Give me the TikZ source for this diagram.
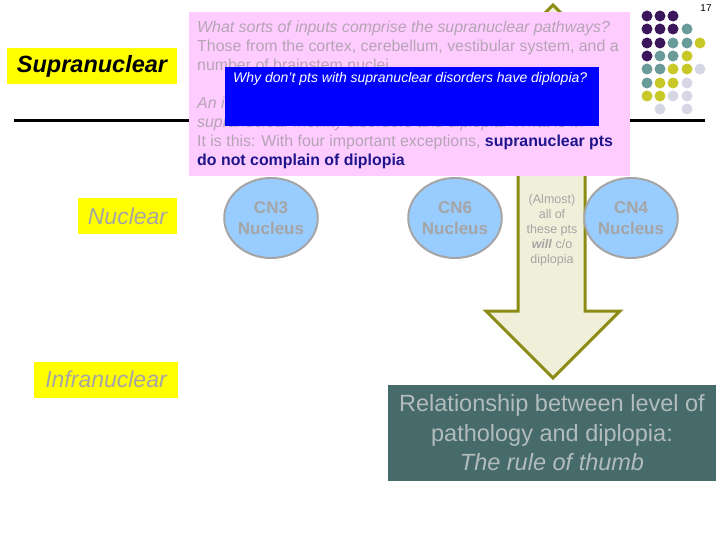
\documentclass[tikz,border=0pt]{standalone}
\usepackage{fontspec}
\setmainfont{Liberation Sans}
\usetikzlibrary{shapes.geometric}
\definecolor{pinkbg}{RGB}{255,204,255}
\definecolor{pinktext}{RGB}{180,164,180}
\definecolor{navytext}{RGB}{30,20,140}
\definecolor{levelyellow}{RGB}{255,255,0}
\definecolor{fadedgray}{RGB}{165,165,165}
\definecolor{nucleusblue}{RGB}{153,204,255}
\definecolor{arrowfill}{RGB}{240,240,218}
\definecolor{arrowline}{RGB}{140,140,20}
\definecolor{thumbteal}{RGB}{71,106,106}
\definecolor{thumbtext}{RGB}{178,188,188}
\definecolor{dotpurple}{RGB}{60,22,90}
\definecolor{dotteal}{RGB}{106,154,154}
\definecolor{dotyellow}{RGB}{200,200,40}
\definecolor{dotlilac}{RGB}{214,214,228}
\begin{document}
\begin{tikzpicture}
      [x=1pt,y=-1pt,
      level box/.style={fill=levelyellow,inner sep=0pt,minimum height=36pt,
        font=\fontsize{23}{27}\selectfont\itshape},
      nucleus/.style={ellipse,fill=nucleusblue,draw=fadedgray,line width=2pt,
        minimum width=86pt,minimum height=80pt,inner sep=0pt,align=center,
        text=fadedgray,font=\fontsize{17}{21}\selectfont\bfseries},
      big arrow/.style={fill=arrowfill,draw=arrowline,line width=3pt,line join=miter}]
      \useasboundingbox (0,0) rectangle (720,540);
      % level divider
      \draw[line width=3pt] (14,121) -- (705,121);
      % rule of thumb arrow
      \draw[big arrow] (553,5) -- (620,72) -- (585,72) -- (585,311) -- (620,311)
        -- (553,378) -- (486,311) -- (518,311) -- (518,72) -- (486,72) -- cycle;
      \node[align=center,text=fadedgray,font=\fontsize{12.5}{15}\selectfont]
        (almost) at (552,230) {(Almost)\\all of\\these pts\\\textbf{\textit{will}} c/o\\diplopia};
      % levels
      \node[level box,minimum width=170pt,font=\fontsize{23.5}{27}\selectfont\bfseries\itshape]
        (supra) at (92,66) {Supranuclear};
      \node[level box,minimum width=99pt,text=fadedgray] (nuc) at (127.5,216) {Nuclear};
      \node[level box,minimum width=144pt,text=fadedgray] (infra) at (106,379.5) {Infranuclear};
      % nuclei
      \node[nucleus] (cn3) at (271,218) {CN3\\Nucleus};
      \node[nucleus] (cn6) at (455,218) {CN6\\Nucleus};
      \node[nucleus] (cn4) at (631,218) {CN4\\Nucleus};
      % question box
      \node[fill=pinkbg,anchor=north west,minimum width=441pt,minimum height=164pt,
        inner sep=0pt] (quiz) at (189,12) {};
      \node[anchor=north west,align=left,inner sep=0pt,text=pinktext,
        font=\fontsize{15.9}{19}\selectfont] (quiztext) at (197,21)
        {\textit{What sorts of inputs comprise the supranuclear pathways?}\\
         Those from the cortex, cerebellum, vestibular system, and a\\
         number of brainstem nuclei.\\[19pt]
         \textit{An important rule of thumb relates}\\
         \textit{supranuclear motility disorders and diplopia. What is it?}\\
         It is this: With four important exceptions, \textcolor{navytext}{\textbf{supranuclear pts}}\\
         \textcolor{navytext}{\textbf{do not complain of diplopia}}};
      \node[fill=blue,anchor=north west,minimum width=374pt,minimum height=59pt,
        inner sep=0pt] (why) at (225,67) {};
      \node[anchor=base west,inner sep=0pt,text=white,font=\fontsize{14}{17}\selectfont\itshape]
        (whytext) at (233,83) {Why don't pts with supranuclear disorders have diplopia?};
      % summary
      \node[fill=thumbteal,minimum width=328pt,minimum height=96pt,inner sep=0pt,
        align=center,text=thumbtext,font=\fontsize{23.5}{29.5}\selectfont]
        (thumb) at (552,433) {Relationship between level of\\pathology and diplopia:\\\textit{The rule of thumb}};
      % slide number and dots
      \node[font=\fontsize{10}{12}\selectfont] (page) at (706,8) {17};
      \fill[dotpurple] (647,16) circle (5.5) (660,16) circle (5.5) (673,16) circle (5.5)
        (647,29) circle (5.5) (660,29) circle (5.5) (673,29) circle (5.5)
        (647,43) circle (5.5) (660,43) circle (5.5) (647,56) circle (5.5);
      \fill[dotteal] (687,29) circle (5.5) (673,43) circle (5.5) (687,43) circle (5.5)
        (660,56) circle (5.5) (673,56) circle (5.5) (647,69) circle (5.5)
        (660,69) circle (5.5) (647,83) circle (5.5);
      \fill[dotyellow] (700,43) circle (5.5) (687,56) circle (5.5) (673,69) circle (5.5)
        (687,69) circle (5.5) (660,83) circle (5.5) (673,83) circle (5.5)
        (647,96) circle (5.5) (660,96) circle (5.5);
      \fill[dotlilac] (700,69) circle (5.5) (687,83) circle (5.5) (673,96) circle (5.5)
        (687,96) circle (5.5) (660,109) circle (5.5) (687,109) circle (5.5);
    \end{tikzpicture}
\end{document}
